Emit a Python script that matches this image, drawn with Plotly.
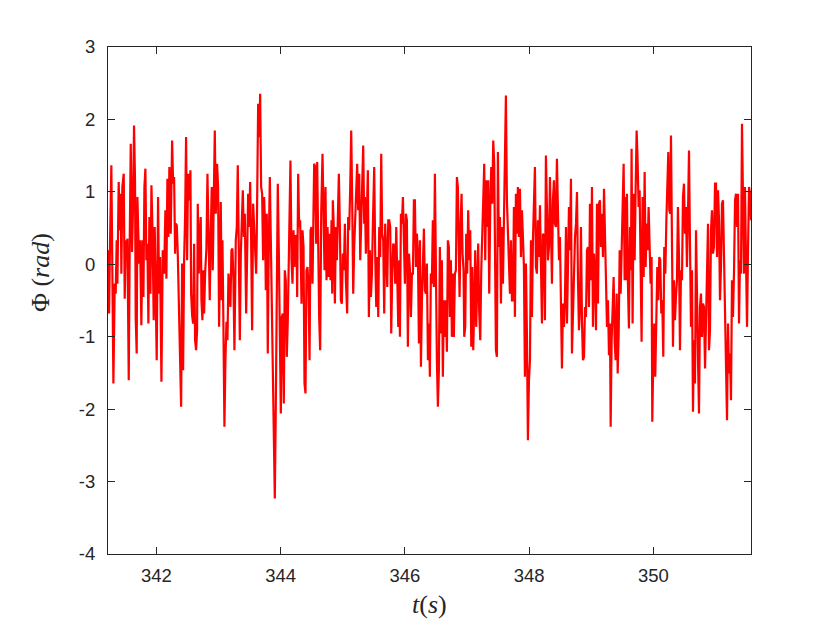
import plotly.graph_objects as go

# Time (s) and phase Phi (rad)
t = [
341.221,341.237,341.253,341.274,341.307,341.328,341.344,341.360,341.371,341.392,341.409,341.425,341.435,341.451,341.473,341.489,341.505,341.521,341.532,341.554,
341.570,341.586,341.607,341.623,341.639,341.655,341.666,341.682,341.693,341.704,341.720,341.736,341.757,341.774,341.790,341.806,341.822,341.838,341.854,341.870,
341.886,341.903,341.919,341.935,341.956,341.972,341.988,342.004,342.026,342.042,342.058,342.080,342.101,342.123,342.144,342.160,342.176,342.192,342.208,
342.230,342.252,342.268,342.284,342.300,342.311,342.327,342.343,342.364,342.380,342.397,342.413,342.429,342.445,342.461,342.477,342.493,342.509,342.525,342.547,
342.558,342.574,342.590,342.606,342.622,342.638,342.654,342.665,342.681,342.697,342.713,342.724,342.740,342.751,342.767,342.783,342.804,342.821,342.837,342.858,
342.874,342.890,342.906,342.923,342.939,342.955,342.976,342.992,343.008,343.019,343.035,343.051,343.062,343.078,343.094,343.110,343.127,343.143,343.159,343.175,
343.191,343.207,343.223,343.239,343.255,
343.277,343.293,343.309,343.325,343.342,343.358,343.374,343.390,343.406,343.422,343.444,343.460,343.476,343.492,343.508,343.524,343.540,343.556,343.572,343.588,
343.605,343.615,343.626,343.637,343.653,343.669,343.685,343.701,343.717,343.733,343.749,343.760,343.776,343.792,343.809,343.825,343.841,343.857,343.873,343.889,
343.905,343.921,343.937,343.953,343.970,343.986,344.002,344.018,344.034,344.050,344.066,344.082,344.098,344.114,344.131,344.147,344.157,344.174,344.190,344.206,
344.222,344.238,344.254,344.265,344.281,344.297,
344.313,344.335,344.351,344.367,344.383,344.399,344.415,344.431,344.448,344.464,344.480,344.496,344.512,344.528,344.539,344.555,344.571,344.587,344.603,344.619,
344.635,344.652,344.673,344.689,344.705,344.721,344.737,344.754,344.770,344.786,344.802,344.818,344.829,344.839,344.856,344.872,344.888,344.904,344.920,344.936,
344.952,344.968,344.984,345.000,345.017,345.033,345.049,345.070,345.086,345.102,345.119,345.135,345.151,345.167,345.183,345.199,345.215,345.231,345.247,345.264,
345.280,345.296,345.312,345.328,345.344,
345.355,345.371,345.387,345.403,345.419,345.436,345.452,345.468,345.484,345.505,345.521,345.538,345.554,345.570,345.586,345.602,345.618,345.634,345.650,345.666,
345.682,345.699,345.715,345.731,345.747,345.763,345.779,345.795,345.811,345.827,345.843,345.860,345.876,345.892,345.908,345.919,345.935,345.951,345.967,345.983,
345.999,346.015,346.031,346.047,346.064,346.080,346.096,346.112,346.128,346.144,346.160,346.176,346.192,346.208,346.225,346.241,346.257,346.273,346.289,346.305,
346.321,346.337,346.353,346.370,346.386,
346.401,346.417,346.433,346.449,346.465,346.482,346.498,346.514,346.530,346.546,346.562,346.578,346.594,346.610,346.626,346.643,346.659,346.675,346.691,346.707,
346.723,346.739,346.755,346.771,346.787,346.804,346.820,346.836,346.852,346.868,346.879,346.895,346.911,346.927,346.943,346.954,346.970,346.986,347.002,347.018,
347.034,347.051,347.067,347.083,347.099,347.115,347.131,347.147,347.163,347.179,347.195,347.212,347.228,347.244,347.260,347.276,347.292,347.308,347.324,347.340,
347.356,347.373,347.389,347.405,347.421,347.437,
347.464,347.480,347.496,347.512,347.529,347.545,347.561,347.577,347.593,347.609,347.625,347.641,347.657,347.673,347.690,347.706,347.722,347.738,347.754,347.770,
347.786,347.802,347.818,347.834,347.851,347.867,347.883,347.899,347.915,347.931,347.947,347.963,347.979,347.996,348.012,348.028,348.044,348.060,348.076,348.092,
348.108,348.124,348.140,348.157,348.173,348.189,348.205,348.221,348.237,348.253,348.269,348.285,348.302,348.318,348.334,348.350,348.366,348.382,348.398,348.414,
348.430,348.446,348.462,348.479,
348.495,348.511,348.527,348.543,348.559,348.576,348.592,348.608,348.624,348.640,348.656,348.672,348.688,348.704,348.720,348.737,348.753,348.769,348.785,348.801,
348.817,348.833,348.849,348.865,348.882,348.898,348.914,348.930,348.946,348.962,348.978,348.994,349.010,349.026,349.043,349.059,349.075,349.091,349.107,349.123,
349.139,349.155,349.171,349.187,349.204,349.220,349.236,349.252,349.268,349.284,349.300,349.311,349.327,349.343,349.359,349.375,349.391,349.408,349.424,349.440,
349.456,349.472,349.488,349.504,349.520,349.536,
349.541,349.557,349.573,349.589,349.605,349.622,349.638,349.648,349.664,349.681,349.697,349.713,349.729,349.745,349.761,349.777,349.793,349.809,349.825,349.842,
349.858,349.874,349.890,349.906,349.922,349.938,349.954,349.970,349.981,349.997,350.013,350.029,350.046,350.062,350.078,350.094,350.110,350.126,350.142,350.158,
350.174,350.191,350.207,350.223,350.239,350.255,350.271,350.282,350.298,350.314,350.330,350.346,350.362,350.378,350.394,350.411,350.427,350.443,350.459,350.475,
350.491,350.507,350.523,350.539,350.556,350.572,
350.588,350.604,350.620,350.636,350.652,350.669,350.685,350.701,350.717,350.733,350.749,350.765,350.781,350.797,350.813,350.830,350.846,350.862,350.878,350.894,
350.910,350.926,350.942,350.958,350.974,350.991,351.007,351.023,351.039,351.055,351.071,351.087,351.103,351.119,351.136,351.152,351.168,351.184,351.200,351.216,
351.232,351.248,351.264,351.280,351.297,351.313,351.329,351.345,351.361,351.377,351.393,351.409,351.425,351.441,351.457,351.473,351.490,351.506,351.522,351.538,
351.554,351.570,
]

phi = [
0.193,-0.680,0.308,1.366,-1.646,-0.267,-0.405,0.331,-0.267,1.136,0.469,0.975,-0.129,1.067,1.251,-0.474,0.331,0.101,0.354,-1.600,
0.331,1.664,0.170,0.791,1.917,1.159,-0.749,-1.232,0.929,0.515,0.009,0.331,-0.841,0.331,-0.451,1.067,1.320,0.055,0.285,-0.818,
0.653,-0.405,1.090,0.515,-0.772,0.515,-0.634,-1.324,0.929,-0.405,0.101,-1.623,0.193,-0.129,0.745,-0.198,1.182,0.377,1.343,
0.423,1.710,1.113,1.205,0.147,0.561,0.538,0.147,-0.910,-1.324,-1.968,0.009,-1.462,0.055,0.653,1.756,0.055,1.251,0.883,1.297,
-0.405,-0.703,-0.818,0.285,-1.048,-1.186,-0.910,0.837,-0.129,0.423,0.653,-0.497,-0.772,-0.083,-0.680,-0.129,0.216,1.251,0.515,-0.497,
0.423,1.067,-0.083,1.205,1.848,0.699,1.389,1.067,-0.864,-0.175,0.860,-0.497,0.331,-0.864,-2.244,-1.324,-0.795,-1.048,-0.129,-0.405,
-0.589,0.193,0.216,-0.221,-1.186,
0.331,0.515,1.366,-0.221,-1.048,0.147,0.515,1.021,0.377,0.699,-0.680,0.423,0.975,0.515,1.136,0.331,-0.910,0.837,0.515,0.239,
-0.129,0.423,1.297,2.216,1.756,2.354,1.067,0.975,0.055,0.929,0.515,-0.359,0.699,-1.232,0.331,1.205,0.331,-0.772,-1.508,-2.428,
-3.232,-1.968,-0.221,1.113,0.147,-0.910,-2.060,-0.726,-0.680,-1.922,-0.083,-0.221,-1.278,-0.772,0.423,1.343,1.434,0.055,-0.267,0.469,
-0.037,0.400,0.377,-0.451,1.251,0.515,
0.607,-0.543,0.469,0.239,-1.646,-1.784,-0.083,-0.037,-0.313,-1.324,0.469,0.515,-0.267,0.745,1.389,1.343,0.285,1.411,0.239,-0.726,
-1.186,0.722,1.526,0.699,-0.083,1.067,-0.221,0.515,-0.175,0.423,-0.221,0.607,-0.405,0.883,0.469,-0.543,0.515,0.055,0.515,1.251,
0.515,-0.497,-0.543,0.147,-0.083,0.561,-0.221,-0.680,0.653,0.469,1.067,1.848,0.837,-0.405,0.239,0.653,0.837,1.389,0.745,1.251,
0.055,0.607,1.251,1.641,0.561,
0.929,0.147,1.021,1.297,-0.726,0.193,-0.451,-0.129,0.561,1.343,0.147,-0.589,0.101,-0.726,0.515,0.101,1.526,0.423,0.331,-0.680,
0.561,-0.129,-0.313,0.607,0.607,0.515,-0.956,-0.129,0.285,0.239,-0.267,0.515,-0.129,-0.864,0.055,-1.002,0.699,0.561,0.929,0.423,
-0.267,0.699,0.607,-1.140,0.147,-0.083,-0.726,-0.129,-0.129,0.883,0.883,-0.037,0.423,0.147,-1.094,0.331,-1.416,-0.497,-0.129,0.492,
-0.359,-0.405,0.009,-1.324,-0.818,
-1.554,-0.129,-0.267,0.607,-0.313,1.251,-0.405,-1.324,-1.968,-1.462,0.239,-0.956,0.055,-1.554,-0.497,-1.002,-0.497,-1.209,0.331,0.239,
-0.726,0.055,-1.002,-0.129,-1.002,-0.129,-0.083,1.205,1.067,0.239,-0.451,0.515,0.975,0.147,-0.083,-1.002,-0.864,0.423,-0.129,0.745,
0.055,0.469,-1.140,-0.037,-1.186,-0.589,0.193,-0.864,-0.129,0.285,-0.657,-1.048,-0.083,0.653,0.883,1.389,0.055,1.159,0.515,1.159,
-0.405,0.791,1.343,0.837,1.710,1.389,
-1.186,-1.278,1.549,0.239,0.653,-0.543,0.515,-0.267,0.607,0.975,2.331,0.883,0.331,0.101,-0.405,0.331,-0.497,-0.497,0.791,-0.726,
0.975,0.423,1.067,0.377,1.044,0.101,0.745,0.377,-0.037,-1.554,0.009,-0.956,-2.428,-1.600,-1.324,0.331,-0.726,0.331,0.883,1.343,
-0.037,-0.129,0.607,0.101,0.814,0.055,-0.818,0.423,0.377,-0.772,1.503,0.791,0.055,0.239,1.205,0.515,-0.267,0.883,1.159,0.561,
0.515,1.457,0.699,0.055,
0.377,-0.772,-1.439,-0.543,-0.864,-0.451,0.515,-0.818,0.193,0.791,0.193,1.182,-1.232,-0.680,-0.129,0.377,0.561,0.998,-0.221,-0.910,
-0.589,0.515,-0.772,-1.324,-1.278,-0.589,-0.726,0.193,0.239,-0.589,0.837,-0.221,1.067,-0.864,0.147,-0.129,-0.910,0.837,-0.543,0.837,
0.883,0.239,0.699,0.101,1.044,0.515,-0.221,-0.864,-0.497,-1.255,-0.818,-2.244,-1.048,-0.634,-0.175,-1.048,-1.324,-0.405,-1.508,-0.956,
0.193,-0.405,0.239,0.929,1.389,-0.221,
0.929,-0.221,0.975,-0.267,-0.887,0.515,-0.083,1.595,-0.818,0.975,0.055,1.021,1.848,1.434,0.791,1.021,-0.083,-1.071,0.929,-0.175,
1.274,-0.037,0.561,0.193,0.791,0.239,-0.267,0.101,-2.175,-1.278,-0.818,-1.554,-0.680,-0.037,-0.497,0.101,0.055,-0.680,-0.497,-1.278,
0.239,-0.129,0.584,1.067,1.549,0.745,0.699,1.779,0.285,-1.140,-0.221,-0.772,-0.451,-0.221,0.791,0.101,-1.186,-0.083,-0.221,0.929,
1.113,0.423,0.791,-0.037,0.699,1.572,
0.285,-0.864,-0.083,-2.037,-1.048,-1.646,0.469,-0.910,-1.324,-2.060,-0.589,-0.405,-1.002,-0.543,-0.589,-1.439,-0.726,-0.267,0.561,-1.186,
-0.910,0.469,0.745,0.147,0.239,1.113,1.113,0.101,1.021,0.607,-0.497,-0.037,0.837,0.883,0.055,-0.634,-1.508,-2.152,-0.818,-1.508,
-1.232,-1.876,-0.221,-0.726,-0.083,0.883,0.975,0.515,0.975,-0.818,0.055,-0.129,1.940,1.067,-0.129,1.067,0.331,-0.864,0.193,1.067,
0.975,0.607,
]

x_ticks = [342, 344, 346, 348, 350]
y_ticks = [-4, -3, -2, -1, 0, 1, 2, 3]
x_range = [341.22, 351.57]
y_range = [-4, 3]

axis_color = "#262626"
tick_font = dict(family="Liberation Sans, Arial, sans-serif", size=18.5, color=axis_color)

fig = go.Figure()
fig.add_trace(go.Scatter(x=t, y=phi, mode="lines",
                         line=dict(color="#ff0000", width=2.2), showlegend=False,
                         hoverinfo="skip"))

common = dict(showline=True, linecolor=axis_color, linewidth=1, mirror="ticks",
              ticks="inside", ticklen=7, tickwidth=1, tickcolor=axis_color,
              showgrid=False, zeroline=False, tickfont=tick_font)

fig.update_xaxes(range=x_range, tickmode="array", tickvals=x_ticks,
                 ticktext=[str(v) for v in x_ticks], ticklabelstandoff=5, **common)
fig.update_yaxes(range=y_range, tickmode="array", tickvals=y_ticks,
                 ticktext=[str(v) for v in y_ticks], ticklabelstandoff=8, **common)

title_font = dict(family="Liberation Serif, Times New Roman, serif", size=26, color=axis_color)

fig.update_layout(
    width=814, height=617,
    margin=dict(l=100, r=71, t=39, b=71),
    paper_bgcolor="white", plot_bgcolor="white",
    annotations=[
        dict(text="<i>t</i>(<i>s</i>)", xref="paper", yref="paper",
             x=0.5, y=-0.1, xanchor="center", yanchor="middle",
             showarrow=False, font=title_font),
        dict(text="Φ (<i>rad</i>)", xref="paper", yref="paper",
             x=-0.105, y=0.555, xanchor="center", yanchor="middle",
             textangle=-90, showarrow=False, font=title_font),
    ],
)

fig.write_html("out.html")
